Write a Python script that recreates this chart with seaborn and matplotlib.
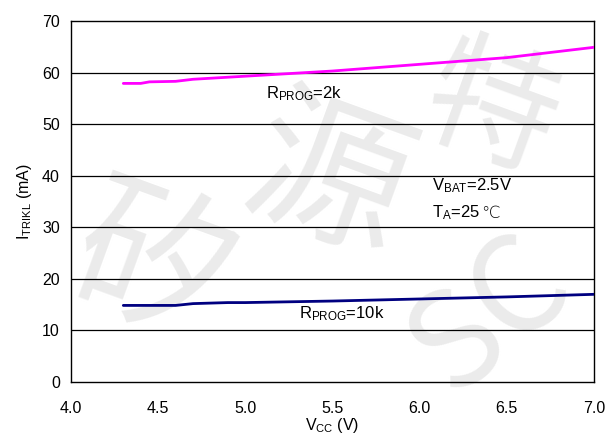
import numpy as np
import pandas as pd
import matplotlib
matplotlib.use("Agg")
import matplotlib.pyplot as plt
import seaborn as sns

# values
vcc_2k = [4.3, 4.4, 4.45, 4.6, 4.7, 5.0, 5.5, 6.0, 6.5, 7.0]
itrikl_2k = [57.9, 57.9, 58.2, 58.3, 58.7, 59.3, 60.3, 61.6, 62.9, 64.9]
vcc_10k = [4.3, 4.6, 4.7, 4.9, 5.0, 5.5, 6.0, 6.5, 7.0]
itrikl_10k = [14.85, 14.85, 15.2, 15.4, 15.4, 15.7, 16.1, 16.5, 17.0]

x_ticks = [4.0, 4.5, 5.0, 5.5, 6.0, 6.5, 7.0]
y_ticks = [0, 10, 20, 30, 40, 50, 60, 70]

df = pd.concat([
    pd.DataFrame({"vcc": vcc_2k, "i": itrikl_2k, "rprog": "2k"}),
    pd.DataFrame({"vcc": vcc_10k, "i": itrikl_10k, "rprog": "10k"}),
])

sns.set_theme(style="white")
plt.rcParams["font.family"] = ["Liberation Sans", "DejaVu Sans"]
plt.rcParams["mathtext.fontset"] = "custom"
plt.rcParams["mathtext.rm"] = "Liberation Sans"
plt.rcParams["mathtext.it"] = "Liberation Sans"
plt.rcParams["text.color"] = "black"

fig = plt.figure(figsize=(6.05, 4.38), dpi=100)
ax = fig.add_axes([71 / 605, 1 - 382 / 438, (594 - 71) / 605, (382 - 21) / 438])
ax.patch.set_alpha(0)

# faint watermark behind the plot
wm = dict(color="#ebebeb", zorder=-10, family=["Noto Sans CJK SC"],
          ha="center", va="center")
fig.text(0.25, 0.38, "矽", fontsize=115, rotation=-20, **wm)
fig.text(0.54, 0.58, "源", fontsize=115, rotation=-20, **wm)
fig.text(0.81, 0.74, "特", fontsize=95, rotation=-20, **wm)
fig.text(0.81, 0.28, "SC", fontsize=95, rotation=40, **wm)

sns.lineplot(data=df, x="vcc", y="i", hue="rprog",
             palette={"2k": "#ff00ff", "10k": "#000080"},
             linewidth=2, legend=False, ax=ax, zorder=3)

ax.set_xlim(4.0, 7.0)
ax.set_ylim(0, 70)
ax.set_xticks(x_ticks)
ax.set_xticklabels([f"{v:.1f}" for v in x_ticks])
ax.set_yticks(y_ticks)
ax.set_yticklabels([str(v) for v in y_ticks])
ax.tick_params(axis="x", direction="in", length=4, width=0.8, color="black",
               labelsize=11.5, pad=14, labelcolor="black")
ax.tick_params(axis="y", direction="in", length=0, labelsize=11.5, pad=8,
               labelcolor="black")
for y in y_ticks[1:-1]:
    ax.axhline(y, color="black", linewidth=0.9, zorder=1)
for s in ax.spines.values():
    s.set_visible(True)
    s.set_color("black")
    s.set_linewidth(1.0)

ax.set_xlabel(r"V$_{\mathrm{CC}}$ (V)", fontsize=11.5, labelpad=0, color="black")
ax.set_ylabel(r"I$_{\mathrm{TRIKL}}$ (mA)", fontsize=11.5, labelpad=6, color="black")

fs = 12
ax.text(5.12, 56.0, r"R$_{\mathrm{PROG}}$=2k", fontsize=fs, ha="left", va="center")
ax.text(5.31, 13.2, r"R$_{\mathrm{PROG}}$=10k", fontsize=fs, ha="left", va="center")
ax.text(6.07, 38.0, r"V$_{\mathrm{BAT}}$=2.5V", fontsize=fs, ha="left", va="center")
ta = ax.text(6.07, 32.8, r"T$_{\mathrm{A}}$=25", fontsize=fs, ha="left", va="center")

# put the degree sign right after "25"
fig.canvas.draw()
bb = ta.get_window_extent()
x_end, y_mid = ax.transData.inverted().transform((bb.x1 + 1, (bb.y0 + bb.y1) / 2))
ax.text(x_end, 32.8, "℃", fontsize=fs, ha="left", va="center",
        family=["DejaVu Sans"], fontweight="light")

fig.savefig("out.png", dpi=100)
